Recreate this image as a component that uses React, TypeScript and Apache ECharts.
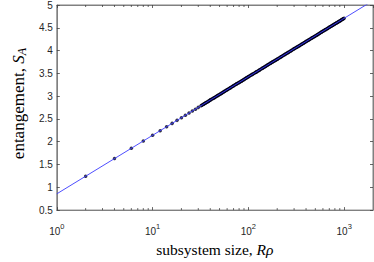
import React, { useEffect, useRef } from 'react';
import * as echarts from 'echarts';

const subsystemSizes = [
  2, 4, 6, 8, 10, 12, 14, 16, 18, 20, 22, 24, 26, 28, 30, 32, 34, 36, 38, 40,
  44, 48, 52, 56, 60, 65, 70, 75, 80, 85, 90, 95,
  100, 110, 120, 130, 140, 150, 160, 170, 180, 190, 200,
  220, 240, 260, 280, 300, 320, 340, 360, 380, 400,
  430, 460, 490, 520, 550, 580, 610, 640, 670, 700, 730, 760, 790, 820, 850, 880, 910, 940, 970, 1000,
];
const entanglement = [
  1.244, 1.63, 1.856, 2.017, 2.141, 2.243, 2.329, 2.403, 2.469, 2.528, 2.581, 2.629, 2.674, 2.715, 2.754, 2.79, 2.823, 2.855, 2.885, 2.914,
  2.967, 3.016, 3.06, 3.102, 3.14, 3.185, 3.226, 3.265, 3.301, 3.334, 3.366, 3.396,
  3.425, 3.478, 3.527, 3.571, 3.613, 3.651, 3.687, 3.721, 3.753, 3.783, 3.812,
  3.865, 3.913, 3.958, 3.999, 4.038, 4.074, 4.107, 4.139, 4.169, 4.198,
  4.238, 4.276, 4.311, 4.344, 4.376, 4.405, 4.433, 4.46, 4.486, 4.51, 4.533, 4.556, 4.578, 4.598, 4.618, 4.638, 4.656, 4.674, 4.692, 4.709,
];
const fitSizes = [1, 2000];
const fitEntanglement = [0.857, 5.096];
const minorTickSizes = [2, 3, 4, 5, 6, 7, 8, 9, 20, 30, 40, 50, 60, 70, 80, 90, 200, 300, 400, 500, 600, 700, 800, 900];
const xRange = [1, 2000];
const yRange = [0.5, 5];
const yStep = 0.5;

export default function App() {
  const ref = useRef<HTMLDivElement>(null);
  useEffect(() => {
    const chart = echarts.init(ref.current!, null, { renderer: 'svg' });
    const labelColor = '#262626';
    const boxColor = '#808080';
    const tickColor = '#404040';
    const dotColor = '#000018';
    const serif = 'Liberation Serif';
    const sans = 'Liberation Sans';
    const points = subsystemSizes.map((s, i) => [s, entanglement[i]]);
    const band = points.filter((p) => p[0] >= 32);
    const fit = fitSizes.map((s, i) => [s, fitEntanglement[i]]);

    const xLabelFormatter = (v: number) => {
      const e = Math.round(Math.log10(v));
      if (Math.abs(Math.pow(10, e) - v) > 1e-6 * v) return '';
      return `{b|10}{s|${e}}`;
    };

    const option: any = {
      animation: false,
      grid: { left: 41, right: 1, top: 4, bottom: 42, show: true, borderColor: boxColor, borderWidth: 1, backgroundColor: '#fff' },
      xAxis: [
        {
          type: 'log', logBase: 10, min: xRange[0], max: xRange[1], position: 'bottom',
          axisLine: { show: true, lineStyle: { color: boxColor, width: 1 } },
          axisTick: { show: true, inside: true, length: 3, lineStyle: { color: tickColor, width: 0.8 } },
          splitLine: { show: false },
          minorTick: { show: false },
          axisLabel: {
            show: true, margin: 12, formatter: xLabelFormatter, showMaxLabel: false,
            rich: {
              b: { fontFamily: sans, fontSize: 10, color: labelColor, lineHeight: 14, verticalAlign: 'bottom' },
              s: { fontFamily: sans, fontSize: 7.5, color: labelColor, lineHeight: 14, verticalAlign: 'top', padding: [0, 0, 4, 0] },
            },
          },
          name: 'subsystem size, {i|Rρ}',
          nameLocation: 'middle', nameGap: 22,
          nameTextStyle: {
            fontFamily: serif, fontSize: 15.5, color: '#000',
            rich: { i: { fontFamily: serif, fontSize: 15.5, fontStyle: 'italic', color: '#000' } },
          },
        },
        {
          type: 'log', logBase: 10, min: xRange[0], max: xRange[1], position: 'top',
          axisLine: { show: true, lineStyle: { color: boxColor, width: 1 } },
          axisTick: { show: true, inside: true, length: 3, lineStyle: { color: tickColor, width: 0.8 } },
          axisLabel: { show: false }, splitLine: { show: false },
        },
      ],
      yAxis: [
        {
          type: 'value', min: yRange[0], max: yRange[1], interval: yStep, position: 'left',
          axisLine: { show: true, lineStyle: { color: boxColor, width: 1 } },
          axisTick: { show: true, inside: true, length: 3, lineStyle: { color: tickColor, width: 0.8 } },
          splitLine: { show: false },
          axisLabel: { fontFamily: sans, fontSize: 10, color: labelColor, margin: 4 },
          name: 'entangement, {i|S}{sub|A}',
          nameLocation: 'middle', nameGap: 20, nameRotate: 90,
          nameTextStyle: {
            fontFamily: serif, fontSize: 17, color: '#000', lineHeight: 20, padding: [0, 0, 0, 8],
            rich: {
              i: { fontFamily: serif, fontSize: 17, fontStyle: 'italic', color: '#000', lineHeight: 20 },
              sub: { fontFamily: serif, fontSize: 12, fontStyle: 'italic', color: '#000', lineHeight: 20, verticalAlign: 'bottom' },
            },
          },
        },
        {
          type: 'value', min: yRange[0], max: yRange[1], interval: yStep, position: 'right',
          axisLine: { show: true, lineStyle: { color: boxColor, width: 1 } },
          axisTick: { show: true, inside: true, length: 3, lineStyle: { color: tickColor, width: 0.8 } },
          axisLabel: { show: false }, splitLine: { show: false },
        },
      ],
      series: [
        {
          type: 'custom', xAxisIndex: 0, yAxisIndex: 0, silent: true, clip: false,
          data: minorTickSizes.map((s) => [s, yRange[0]]),
          renderItem: (params: any, api: any) => {
            const x = api.coord([api.value(0), yRange[0]])[0];
            const cs = params.coordSys;
            const bottom = cs.y + cs.height;
            return {
              type: 'group',
              children: [
                { type: 'line', shape: { x1: x, y1: bottom, x2: x, y2: bottom - 2 }, style: { stroke: tickColor, lineWidth: 0.8 } },
                { type: 'line', shape: { x1: x, y1: cs.y, x2: x, y2: cs.y + 2 }, style: { stroke: tickColor, lineWidth: 0.8 } },
              ],
            };
          },
        },
        {
          type: 'scatter', xAxisIndex: 0, yAxisIndex: 0, data: points,
          symbol: 'circle', symbolSize: 3.5, itemStyle: { color: dotColor }, silent: true,
        },
        {
          type: 'line', xAxisIndex: 0, yAxisIndex: 0, data: band, showSymbol: false, symbol: 'none',
          lineStyle: { color: dotColor, width: 3.5 }, silent: true,
        },
        {
          type: 'line', xAxisIndex: 0, yAxisIndex: 0, data: fit, showSymbol: false, symbol: 'none', clip: true,
          lineStyle: { color: '#3a3aff', width: 0.9 }, silent: true, z: 5,
        },
      ],
    };
    chart.setOption(option);
    return () => chart.dispose();
  }, []);
  return <div ref={ref} style={{ position: 'fixed', left: 0, top: 0, width: 374, height: 262, background: '#fff' }} />;
}
